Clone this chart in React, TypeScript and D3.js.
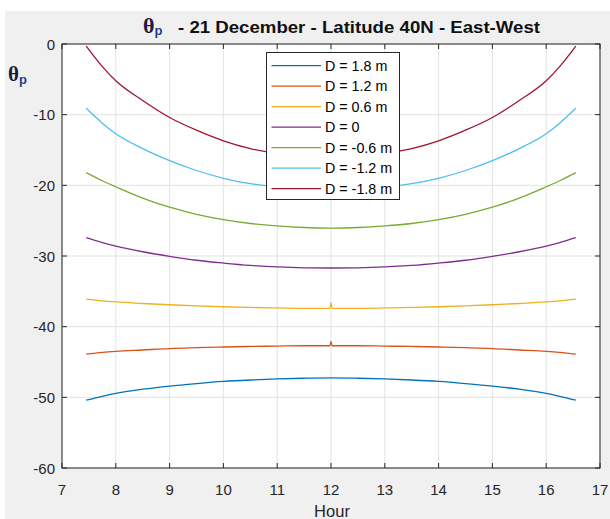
import React from "react";
import * as d3 from "d3";

const hours = [7.45, 7.75, 8, 8.5, 9, 9.5, 10, 10.5, 11, 11.5, 11.98, 12, 12.02, 12.5, 13, 13.5, 14, 14.5, 15, 15.5, 16, 16.25, 16.55];

const seriesNames = ["D = 1.8 m", "D = 1.2 m", "D = 0.6 m", "D = 0", "D = -0.6 m", "D = -1.2 m", "D = -1.8 m"];
const colors = ["#0072BD", "#D95319", "#EDB120", "#7E2F8E", "#77AC30", "#4DBEEE", "#A2142F"];

const d18 = [-50.4, -49.85, -49.45, -48.85, -48.4, -48.05, -47.75, -47.55, -47.4, -47.3, -47.25, -47.25, -47.25, -47.3, -47.4, -47.55, -47.75, -48.05, -48.4, -48.85, -49.45, -49.85, -50.4];
const d12 = [-43.9, -43.65, -43.5, -43.3, -43.1, -42.98, -42.88, -42.8, -42.75, -42.7, -42.7, -42.1, -42.7, -42.7, -42.75, -42.8, -42.88, -42.98, -43.1, -43.3, -43.5, -43.65, -43.9];
const d06 = [-36.1, -36.35, -36.5, -36.72, -36.9, -37.05, -37.18, -37.28, -37.35, -37.4, -37.4, -36.6, -37.4, -37.4, -37.35, -37.28, -37.18, -37.05, -36.9, -36.72, -36.5, -36.35, -36.1];
const d0 = [-27.4, -28.1, -28.6, -29.4, -30.05, -30.6, -31.0, -31.33, -31.55, -31.67, -31.7, -31.7, -31.7, -31.67, -31.55, -31.33, -31.0, -30.6, -30.05, -29.4, -28.6, -28.1, -27.4];
const dm06 = [-18.2, -19.35, -20.2, -21.8, -23.1, -24.1, -24.85, -25.4, -25.75, -25.97, -26.05, -26.05, -26.05, -25.97, -25.75, -25.4, -24.85, -24.1, -23.1, -21.8, -20.2, -19.35, -18.2];
const dm12 = [-9.1, -11.2, -12.7, -14.8, -16.5, -17.9, -19.0, -19.75, -20.25, -20.52, -20.6, -20.6, -20.6, -20.52, -20.25, -19.75, -19.0, -17.9, -16.5, -14.8, -12.7, -11.2, -9.1];
const dm18 = [-0.3, -3.2, -5.2, -8.0, -10.4, -12.2, -13.7, -14.8, -15.5, -15.9, -16.0, -16.0, -16.0, -15.9, -15.5, -14.8, -13.7, -12.2, -10.4, -8.0, -5.2, -3.2, -0.3];

const seriesValues = [d18, d12, d06, d0, dm06, dm12, dm18];

const xTicks = [7, 8, 9, 10, 11, 12, 13, 14, 15, 16, 17];
const yTicks = [0, -10, -20, -30, -40, -50, -60];

const titleText = "- 21 December - Latitude 40N - East-West";

const W = 610;
const H = 519;
const left = 62;
const right = 600;
const top = 44;
const bottom = 468;

export default function App() {
  const x = d3.scaleLinear().domain([7, 17]).range([left, right]);
  const y = d3.scaleLinear().domain([-60, 0]).range([bottom, top]);
  const line = d3
    .line<number>()
    .x((_, i) => x(hours[i]))
    .y((v) => y(v))
    .curve(d3.curveMonotoneX);
  const axisColor = "#262626";
  const font = "'Liberation Sans', Arial, sans-serif";
  const serif = "'Liberation Serif', 'Times New Roman', serif";
  const legX = 266.5;
  const legY = 52.5;
  const rowH = 20.5;

  return (
    <svg
      width={W}
      height={H}
      style={{ position: "absolute", left: 0, top: 0, display: "block" }}
      fontFamily={font}
    >
      <rect x={0} y={0} width={W} height={H} fill="#ffffff" />
      <rect x={5} y={11} width={W - 5} height={H - 11} fill="#f0f0f0" />
      <rect x={left} y={top} width={right - left} height={bottom - top} fill="#ffffff" />
      {/* grid */}
      {xTicks.map((t) => (
        <line key={"gx" + t} x1={x(t)} x2={x(t)} y1={top} y2={bottom} stroke="#e3e3e3" strokeWidth={1} />
      ))}
      {yTicks.map((t) => (
        <line key={"gy" + t} x1={left} x2={right} y1={y(t)} y2={y(t)} stroke="#e3e3e3" strokeWidth={1} />
      ))}
      {/* series */}
      {seriesValues.map((vals, i) => (
        <path key={"s" + i} d={line(vals) || ""} fill="none" stroke={colors[i]} strokeWidth={1.3} />
      ))}
      {/* axes box */}
      <rect x={left} y={top} width={right - left} height={bottom - top} fill="none" stroke={axisColor} strokeWidth={1} />
      {xTicks.map((t) => (
        <g key={"tx" + t}>
          <line x1={x(t)} x2={x(t)} y1={bottom} y2={bottom - 5} stroke={axisColor} />
          <line x1={x(t)} x2={x(t)} y1={top} y2={top + 5} stroke={axisColor} />
          <text x={x(t)} y={bottom + 27} textAnchor="middle" fontSize={15} fill={axisColor}>
            {t}
          </text>
        </g>
      ))}
      {yTicks.map((t) => (
        <g key={"ty" + t}>
          <line x1={left} x2={left + 5} y1={y(t)} y2={y(t)} stroke={axisColor} />
          <line x1={right} x2={right - 5} y1={y(t)} y2={y(t)} stroke={axisColor} />
          <text x={left - 7} y={y(t) + 5.5} textAnchor="end" fontSize={15} fill={axisColor}>
            {t}
          </text>
        </g>
      ))}
      {/* axis labels */}
      <text x={332} y={517} textAnchor="middle" fontSize={16.5} fill={axisColor}>
        Hour
      </text>
      <text x={8} y={81} fontSize={21} fontWeight="bold" fill="#1a1a40" fontFamily={serif}>
        θ
        <tspan fontSize={13} dy={3} fontFamily={font} fill="#1f3f8f">p</tspan>
      </text>
      {/* title */}
      <text x={143} y={33} fontSize={22} fontWeight="bold" fill="#1a1a40" fontFamily={serif}>
        θ
        <tspan fontSize={13} dy={2} fontFamily={font} fill="#1f3f8f">p</tspan>
      </text>
      <text x={178} y={33} fontSize={17} fontWeight="bold" fill="#111" textLength={362} lengthAdjust="spacingAndGlyphs">
        {titleText}
      </text>
      {/* legend */}
      <rect x={legX} y={legY} width={133} height={147} fill="#ffffff" stroke={axisColor} strokeWidth={1} />
      {seriesNames.map((n, i) => (
        <g key={"l" + i}>
          <line
            x1={legX + 5}
            x2={legX + 54.5}
            y1={legY + 13.2 + i * rowH}
            y2={legY + 13.2 + i * rowH}
            stroke={colors[i]}
            strokeWidth={1.3}
          />
          <text x={legX + 58.5} y={legY + 13.2 + i * rowH + 5} fontSize={14.3} fill="#000">
            {n}
          </text>
        </g>
      ))}
    </svg>
  );
}
